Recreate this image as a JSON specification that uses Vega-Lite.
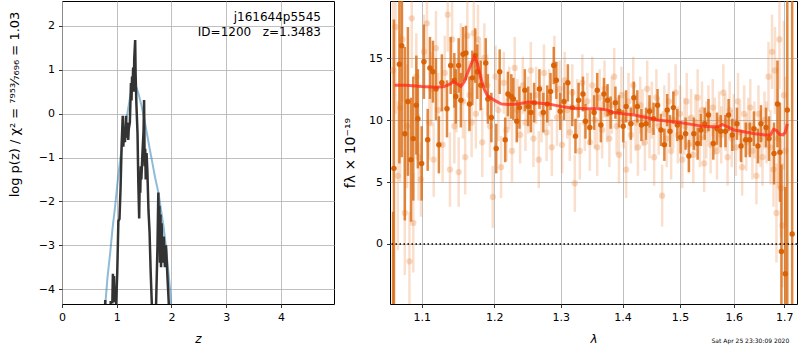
{
  "$schema": "https://vega.github.io/schema/vega-lite/v6.json",
  "padding": {"left": 7, "top": 0, "right": 3, "bottom": 0},
  "background": "white",
  "config": {
    "view": {"stroke": "black", "strokeWidth": 1},
    "font": "DejaVu Sans",
    "axis": {"grid": true, "gridColor": "#b0b0b0", "gridWidth": 0.8, "domain": false, "tickColor": "black", "tickSize": 3.5, "tickWidth": 0.8, "labelFont": "DejaVu Sans", "labelFontSize": 11, "labelColor": "black", "labelPadding": 4, "labelFlush": false, "titleFont": "DejaVu Sans", "titleFontSize": 12, "titleFontWeight": "normal", "titleColor": "black"},
    "title": {"font": "DejaVu Sans", "fontWeight": "normal", "color": "black"}
  },
  "datasets": {
    "prior": [
      {"z":0.788,"lp":-4.4},{"z":0.83,"lp":-3.75},{"z":0.879,"lp":-3.19},{"z":0.925,"lp":-2.6},{"z":0.97,"lp":-2.12},{"z":1.016,"lp":-1.55},{"z":1.062,"lp":-1.06},{"z":1.108,"lp":-0.65},{"z":1.154,"lp":-0.31},{"z":1.2,"lp":0.05},{"z":1.245,"lp":0.38},{"z":1.28,"lp":0.57},{"z":1.306,"lp":0.63},{"z":1.337,"lp":0.64},{"z":1.367,"lp":0.58},{"z":1.41,"lp":0.4},{"z":1.459,"lp":0.15},{"z":1.505,"lp":-0.13},{"z":1.55,"lp":-0.44},{"z":1.6,"lp":-0.78},{"z":1.642,"lp":-1.06},{"z":1.7,"lp":-1.45},{"z":1.764,"lp":-1.81},{"z":1.81,"lp":-2.2},{"z":1.856,"lp":-2.58},{"z":1.9,"lp":-3.05},{"z":1.947,"lp":-3.64},{"z":1.975,"lp":-4.0},{"z":2.0,"lp":-4.45}
    ],
    "pz": [
      {"z":0.78,"lp":-5},{"z":0.79,"lp":-4.25},{"z":0.80,"lp":-5},{"z":0.88,"lp":-5},{"z":0.89,"lp":-4.3},{"z":0.92,"lp":-4.3},{"z":0.93,"lp":-3.65},{"z":0.94,"lp":-4.3},{"z":0.95,"lp":-3.7},{"z":0.96,"lp":-4.3},{"z":0.97,"lp":-4.0},{"z":0.99,"lp":-4.35},{"z":1.01,"lp":-3.6},{"z":1.03,"lp":-2.45},{"z":1.05,"lp":-2.4},{"z":1.07,"lp":-1.7},{"z":1.09,"lp":-0.7},{"z":1.11,"lp":-0.05},{"z":1.12,"lp":-0.75},{"z":1.14,"lp":-0.3},{"z":1.15,"lp":-0.65},{"z":1.17,"lp":-0.05},{"z":1.18,"lp":-0.55},{"z":1.19,"lp":-0.2},{"z":1.21,"lp":-0.6},{"z":1.22,"lp":-0.35},{"z":1.24,"lp":-0.2},{"z":1.26,"lp":0.7},{"z":1.27,"lp":0.3},{"z":1.28,"lp":0.85},{"z":1.29,"lp":0.6},{"z":1.30,"lp":1.05},{"z":1.31,"lp":0.5},{"z":1.32,"lp":1.25},{"z":1.337,"lp":1.68},{"z":1.345,"lp":0.9},{"z":1.36,"lp":0.2},{"z":1.38,"lp":-0.45},{"z":1.395,"lp":-1.6},{"z":1.41,"lp":-2.39},{"z":1.42,"lp":-1.5},{"z":1.43,"lp":-1.8},{"z":1.44,"lp":-1.2},{"z":1.45,"lp":-1.5},{"z":1.47,"lp":-0.9},{"z":1.49,"lp":-0.4},{"z":1.50,"lp":0.31},{"z":1.51,"lp":-1.2},{"z":1.52,"lp":-0.8},{"z":1.53,"lp":-1.5},{"z":1.545,"lp":-0.9},{"z":1.56,"lp":-1.3},{"z":1.58,"lp":-2.2},{"z":1.60,"lp":-2.7},{"z":1.62,"lp":-3.6},{"z":1.64,"lp":-4.3},{"z":1.66,"lp":-5},{"z":1.70,"lp":-5},{"z":1.72,"lp":-4.3},{"z":1.745,"lp":-3.0},{"z":1.76,"lp":-1.8},{"z":1.77,"lp":-2.6},{"z":1.78,"lp":-2.1},{"z":1.79,"lp":-3.4},{"z":1.80,"lp":-2.3},{"z":1.81,"lp":-3.5},{"z":1.82,"lp":-2.5},{"z":1.84,"lp":-3.4},{"z":1.86,"lp":-2.8},{"z":1.88,"lp":-3.5},{"z":1.90,"lp":-3.0},{"z":1.93,"lp":-3.8},{"z":1.95,"lp":-4.3},{"z":1.97,"lp":-5}
    ],
    "light": [
      {"l":1.063,"f":14.0,"e":9},{"l":1.066,"f":17.5,"e":7},{"l":1.069,"f":5.5,"e":6},{"l":1.072,"f":11.0,"e":6},{"l":1.075,"f":16.5,"e":5},{"l":1.078,"f":2.5,"e":5},{"l":1.081,"f":9.5,"e":5},{"l":1.084,"f":-1.4,"e":4},{"l":1.087,"f":18.2,"e":4},{"l":1.089,"f":1.7,"e":4},{"l":1.093,"f":13.5,"e":3.5},{"l":1.096,"f":7.0,"e":3.5},{"l":1.099,"f":5.2,"e":3},{"l":1.103,"f":15.5,"e":3},{"l":1.107,"f":17.8,"e":3},{"l":1.110,"f":9.8,"e":3},{"l":1.113,"f":12.5,"e":3},{"l":1.116,"f":6.8,"e":3},{"l":1.119,"f":15.8,"e":3},{"l":1.122,"f":10.8,"e":3},{"l":1.128,"f":8.0,"e":3},{"l":1.131,"f":13.8,"e":3},{"l":1.135,"f":18.5,"e":3},{"l":1.138,"f":6.0,"e":3},{"l":1.141,"f":16.5,"e":3},{"l":1.144,"f":9.5,"e":3},{"l":1.147,"f":12.0,"e":3},{"l":1.150,"f":5.8,"e":2.8},{"l":1.153,"f":14.8,"e":3},{"l":1.156,"f":11.5,"e":3},{"l":1.159,"f":7.0,"e":3},{"l":1.162,"f":16.8,"e":2.8},{"l":1.165,"f":12.0,"e":2.8},{"l":1.168,"f":9.8,"e":2.8},{"l":1.171,"f":17.0,"e":2.8},{"l":1.174,"f":10.5,"e":2.8},{"l":1.177,"f":16.5,"e":2.8},{"l":1.180,"f":13.5,"e":2.8},{"l":1.183,"f":8.2,"e":2.8},{"l":1.186,"f":15.0,"e":2.8},{"l":1.190,"f":12.8,"e":2.5},{"l":1.194,"f":9.5,"e":2.5},{"l":1.198,"f":3.8,"e":2.5},{"l":1.202,"f":13.5,"e":2.5},{"l":1.206,"f":10.8,"e":2.5},{"l":1.210,"f":6.2,"e":2.5},{"l":1.214,"f":13.0,"e":2.5},{"l":1.218,"f":9.2,"e":2.5},{"l":1.222,"f":11.8,"e":2.5},{"l":1.226,"f":7.5,"e":2.5},{"l":1.230,"f":14.2,"e":2.5},{"l":1.234,"f":10.8,"e":2.5},{"l":1.238,"f":8.8,"e":2.3},{"l":1.242,"f":12.8,"e":2.3},{"l":1.246,"f":9.8,"e":2.3},{"l":1.250,"f":11.2,"e":2.3},{"l":1.254,"f":14.0,"e":2.3},{"l":1.258,"f":8.5,"e":2.3},{"l":1.262,"f":12.0,"e":2.3},{"l":1.266,"f":6.8,"e":2.3},{"l":1.270,"f":10.5,"e":2.3},{"l":1.274,"f":13.8,"e":2.3},{"l":1.278,"f":9.0,"e":2.3},{"l":1.282,"f":11.8,"e":2.3},{"l":1.286,"f":7.8,"e":2.3},{"l":1.290,"f":14.5,"e":2.3},{"l":1.294,"f":10.2,"e":2.3},{"l":1.298,"f":12.5,"e":2.3},{"l":1.302,"f":8.0,"e":2.3},{"l":1.306,"f":13.2,"e":2.3},{"l":1.310,"f":10.8,"e":2.3},{"l":1.314,"f":9.0,"e":2.3},{"l":1.318,"f":12.2,"e":2.3},{"l":1.322,"f":4.9,"e":2.3},{"l":1.326,"f":11.0,"e":2.3},{"l":1.330,"f":7.5,"e":2.3},{"l":1.334,"f":13.0,"e":2.3},{"l":1.338,"f":9.8,"e":2.3},{"l":1.342,"f":11.5,"e":2.3},{"l":1.346,"f":8.2,"e":2.3},{"l":1.350,"f":12.8,"e":2.3},{"l":1.354,"f":10.0,"e":2.3},{"l":1.358,"f":7.8,"e":2.3},{"l":1.362,"f":11.8,"e":2.3},{"l":1.366,"f":9.2,"e":2.3},{"l":1.370,"f":12.5,"e":2.3},{"l":1.374,"f":10.5,"e":2.3},{"l":1.378,"f":8.5,"e":2.3},{"l":1.382,"f":11.2,"e":2.3},{"l":1.386,"f":13.5,"e":2.3},{"l":1.390,"f":9.5,"e":2.3},{"l":1.394,"f":7.2,"e":2.3},{"l":1.398,"f":12.0,"e":2.3},{"l":1.402,"f":10.0,"e":2.3},{"l":1.406,"f":6.0,"e":2.3},{"l":1.410,"f":11.5,"e":2.3},{"l":1.414,"f":8.8,"e":2.3},{"l":1.418,"f":12.8,"e":2.3},{"l":1.422,"f":9.8,"e":2.3},{"l":1.426,"f":7.8,"e":2.3},{"l":1.430,"f":11.2,"e":2.3},{"l":1.434,"f":10.2,"e":2.3},{"l":1.438,"f":8.2,"e":2.3},{"l":1.442,"f":12.5,"e":2.3},{"l":1.446,"f":9.2,"e":2.3},{"l":1.450,"f":10.8,"e":2.3},{"l":1.454,"f":7.0,"e":2.3},{"l":1.458,"f":11.8,"e":2.3},{"l":1.462,"f":9.5,"e":2.3},{"l":1.468,"f":3.9,"e":2.5},{"l":1.472,"f":10.5,"e":2.3},{"l":1.476,"f":8.5,"e":2.3},{"l":1.480,"f":11.5,"e":2.3},{"l":1.484,"f":7.5,"e":2.3},{"l":1.488,"f":10.0,"e":2.3},{"l":1.492,"f":12.2,"e":2.3},{"l":1.496,"f":8.8,"e":2.3},{"l":1.500,"f":10.5,"e":2.3},{"l":1.504,"f":6.8,"e":2.3},{"l":1.508,"f":9.5,"e":2.3},{"l":1.512,"f":11.5,"e":2.3},{"l":1.516,"f":8.0,"e":2.3},{"l":1.520,"f":10.2,"e":2.3},{"l":1.524,"f":7.2,"e":2.3},{"l":1.528,"f":9.8,"e":2.3},{"l":1.532,"f":11.8,"e":2.3},{"l":1.536,"f":8.5,"e":2.3},{"l":1.540,"f":10.8,"e":2.3},{"l":1.544,"f":6.5,"e":2.3},{"l":1.548,"f":9.2,"e":2.3},{"l":1.552,"f":10.5,"e":2.3},{"l":1.556,"f":8.0,"e":2.3},{"l":1.560,"f":11.0,"e":2.3},{"l":1.564,"f":9.5,"e":2.3},{"l":1.568,"f":7.5,"e":2.3},{"l":1.572,"f":10.0,"e":2.3},{"l":1.576,"f":8.8,"e":2.3},{"l":1.580,"f":12.2,"e":2.3},{"l":1.584,"f":9.8,"e":2.3},{"l":1.588,"f":7.0,"e":2.3},{"l":1.592,"f":10.8,"e":2.3},{"l":1.596,"f":8.5,"e":2.3},{"l":1.600,"f":9.8,"e":2.3},{"l":1.604,"f":7.8,"e":2.3},{"l":1.608,"f":11.5,"e":2.3},{"l":1.612,"f":9.0,"e":2.3},{"l":1.616,"f":6.2,"e":2.3},{"l":1.620,"f":10.5,"e":2.3},{"l":1.624,"f":8.2,"e":2.3},{"l":1.628,"f":9.5,"e":2.3},{"l":1.632,"f":11.0,"e":2.3},{"l":1.636,"f":7.5,"e":2.3},{"l":1.640,"f":9.2,"e":2.3},{"l":1.644,"f":5.5,"e":2.3},{"l":1.648,"f":10.5,"e":2.3},{"l":1.652,"f":8.5,"e":2.3},{"l":1.656,"f":7.0,"e":2.3},{"l":1.660,"f":10.0,"e":2.3},{"l":1.664,"f":9.0,"e":2.5},{"l":1.668,"f":13.5,"e":2.8},{"l":1.672,"f":7.8,"e":3},{"l":1.675,"f":15.5,"e":3},{"l":1.678,"f":6.0,"e":3},{"l":1.681,"f":14.0,"e":3.5},{"l":1.684,"f":2.5,"e":4},{"l":1.687,"f":8.5,"e":4},{"l":1.690,"f":16.5,"e":4},{"l":1.693,"f":4.5,"e":4},{"l":1.696,"f":1.5,"e":5},{"l":1.699,"f":12.0,"e":6},{"l":1.702,"f":7.5,"e":6}
    ],
    "dark": [
      {"l":1.063,"f":-6,"e":8.6},{"l":1.064,"f":6.1,"e":12},{"l":1.071,"f":14.5,"e":8},{"l":1.074,"f":16.0,"e":9},{"l":1.078,"f":8.9,"e":7},{"l":1.082,"f":11.5,"e":6},{"l":1.086,"f":6.8,"e":5},{"l":1.089,"f":8.5,"e":5},{"l":1.093,"f":11.2,"e":4},{"l":1.095,"f":10.1,"e":4},{"l":1.100,"f":6.5,"e":3},{"l":1.103,"f":14.7,"e":3},{"l":1.108,"f":8.4,"e":2.5},{"l":1.111,"f":14.2,"e":2.5},{"l":1.115,"f":13.9,"e":2.5},{"l":1.119,"f":12.5,"e":2.5},{"l":1.123,"f":8.0,"e":2.3},{"l":1.127,"f":13.0,"e":2.3},{"l":1.134,"f":10.9,"e":2.3},{"l":1.139,"f":14.4,"e":2.3},{"l":1.144,"f":13.2,"e":2.2},{"l":1.146,"f":11.9,"e":2.2},{"l":1.150,"f":14.4,"e":2.2},{"l":1.153,"f":11.6,"e":2.2},{"l":1.156,"f":15.3,"e":2.2},{"l":1.160,"f":15.4,"e":2.2},{"l":1.165,"f":11.3,"e":2.2},{"l":1.169,"f":13.4,"e":2.2},{"l":1.173,"f":15.2,"e":2.2},{"l":1.176,"f":13.9,"e":2.2},{"l":1.181,"f":12.8,"e":2.0},{"l":1.188,"f":14.6,"e":2.0},{"l":1.191,"f":11.7,"e":2.0},{"l":1.196,"f":10.2,"e":2.0},{"l":1.203,"f":7.7,"e":2.0},{"l":1.208,"f":13.9,"e":1.8},{"l":1.216,"f":8.4,"e":1.8},{"l":1.220,"f":12.1,"e":1.8},{"l":1.225,"f":11.9,"e":1.8},{"l":1.228,"f":11.7,"e":1.7},{"l":1.233,"f":9.9,"e":1.7},{"l":1.237,"f":11.0,"e":1.7},{"l":1.245,"f":12.4,"e":1.7},{"l":1.250,"f":11.1,"e":1.6},{"l":1.254,"f":10.6,"e":1.6},{"l":1.259,"f":11.4,"e":1.6},{"l":1.267,"f":12.5,"e":1.6},{"l":1.273,"f":10.6,"e":1.6},{"l":1.279,"f":11.3,"e":1.5},{"l":1.284,"f":12.3,"e":1.5},{"l":1.289,"f":14.4,"e":1.5},{"l":1.293,"f":13.2,"e":1.5},{"l":1.299,"f":10.7,"e":1.5},{"l":1.305,"f":11.5,"e":1.5},{"l":1.311,"f":13.0,"e":1.5},{"l":1.318,"f":11.0,"e":1.5},{"l":1.323,"f":8.7,"e":1.4},{"l":1.328,"f":11.6,"e":1.4},{"l":1.335,"f":12.1,"e":1.4},{"l":1.339,"f":9.9,"e":1.4},{"l":1.346,"f":9.4,"e":1.4},{"l":1.353,"f":10.6,"e":1.4},{"l":1.358,"f":12.4,"e":1.4},{"l":1.364,"f":9.6,"e":1.4},{"l":1.369,"f":12.1,"e":1.3},{"l":1.375,"f":11.6,"e":1.3},{"l":1.380,"f":10.6,"e":1.3},{"l":1.388,"f":11.4,"e":1.3},{"l":1.394,"f":10.7,"e":1.3},{"l":1.401,"f":9.5,"e":1.3},{"l":1.406,"f":11.1,"e":1.3},{"l":1.414,"f":9.7,"e":1.3},{"l":1.419,"f":11.8,"e":1.3},{"l":1.425,"f":11.1,"e":1.3},{"l":1.432,"f":9.6,"e":1.3},{"l":1.440,"f":9.7,"e":1.3},{"l":1.446,"f":10.7,"e":1.3},{"l":1.453,"f":10.1,"e":1.3},{"l":1.460,"f":11.2,"e":1.3},{"l":1.466,"f":9.2,"e":1.3},{"l":1.472,"f":8.0,"e":1.3},{"l":1.477,"f":10.8,"e":1.3},{"l":1.482,"f":9.1,"e":1.3},{"l":1.488,"f":11.0,"e":1.3},{"l":1.495,"f":9.6,"e":1.3},{"l":1.501,"f":8.6,"e":1.3},{"l":1.510,"f":8.9,"e":1.3},{"l":1.516,"f":7.1,"e":1.3},{"l":1.525,"f":8.9,"e":1.3},{"l":1.532,"f":8.1,"e":1.3},{"l":1.538,"f":9.2,"e":1.3},{"l":1.545,"f":9.7,"e":1.3},{"l":1.552,"f":10.4,"e":1.3},{"l":1.561,"f":8.1,"e":1.3},{"l":1.568,"f":9.3,"e":1.3},{"l":1.575,"f":9.1,"e":1.3},{"l":1.584,"f":9.1,"e":1.3},{"l":1.590,"f":10.4,"e":1.3},{"l":1.597,"f":8.8,"e":1.3},{"l":1.606,"f":9.7,"e":1.3},{"l":1.614,"f":7.9,"e":1.3},{"l":1.623,"f":8.4,"e":1.4},{"l":1.631,"f":8.4,"e":1.4},{"l":1.639,"f":9.3,"e":1.4},{"l":1.647,"f":7.9,"e":1.4},{"l":1.653,"f":9.7,"e":1.5},{"l":1.663,"f":9.4,"e":1.6},{"l":1.669,"f":8.5,"e":1.8},{"l":1.679,"f":7.3,"e":2.5},{"l":1.686,"f":11.3,"e":3.5},{"l":1.691,"f":7.4,"e":4},{"l":1.694,"f":-0.6,"e":7},{"l":1.702,"f":-2.4,"e":7},{"l":1.706,"f":10.8,"e":16},{"l":1.716,"f":0.8,"e":22}
    ],
    "model": [
      {"l":1.065,"f":12.8},{"l":1.08,"f":12.8},{"l":1.10,"f":12.7},{"l":1.12,"f":12.65},{"l":1.13,"f":12.7},{"l":1.138,"f":12.9},{"l":1.143,"f":13.1},{"l":1.148,"f":12.9},{"l":1.153,"f":12.7},{"l":1.158,"f":13.1},{"l":1.163,"f":13.9},{"l":1.168,"f":14.6},{"l":1.172,"f":15.1},{"l":1.176,"f":14.6},{"l":1.18,"f":13.6},{"l":1.185,"f":12.6},{"l":1.19,"f":12.0},{"l":1.195,"f":11.8},{"l":1.20,"f":11.6},{"l":1.21,"f":11.3},{"l":1.22,"f":11.25},{"l":1.235,"f":11.3},{"l":1.25,"f":11.45},{"l":1.26,"f":11.4},{"l":1.28,"f":11.3},{"l":1.30,"f":11.1},{"l":1.32,"f":10.95},{"l":1.34,"f":10.9},{"l":1.36,"f":10.9},{"l":1.375,"f":10.8},{"l":1.385,"f":10.6},{"l":1.40,"f":10.5},{"l":1.42,"f":10.4},{"l":1.44,"f":10.2},{"l":1.46,"f":10.0},{"l":1.48,"f":9.9},{"l":1.50,"f":9.8},{"l":1.52,"f":9.65},{"l":1.54,"f":9.5},{"l":1.56,"f":9.45},{"l":1.57,"f":9.45},{"l":1.578,"f":9.65},{"l":1.585,"f":9.5},{"l":1.60,"f":9.2},{"l":1.62,"f":9.05},{"l":1.64,"f":8.9},{"l":1.66,"f":8.8},{"l":1.672,"f":8.8},{"l":1.678,"f":9.25},{"l":1.684,"f":9.15},{"l":1.69,"f":8.85},{"l":1.697,"f":8.8},{"l":1.702,"f":9.0},{"l":1.706,"f":9.7}
    ]
  },
  "bounds": "flush",
  "spacing": 56,
  "title": {"text": "Sat Apr 25 23:30:09 2020", "orient": "bottom", "anchor": "end", "fontSize": 6, "offset": -7, "dx": -9},
  "hconcat": [
    {
      "width": 272,
      "height": 303,
      "title": {"text": ["j161644p5545", "ID=1200\u00a0\u00a0\u00a0z=1.3483"], "orient": "top", "anchor": "end", "frame": "group", "offset": -38, "dx": -13, "fontSize": 12, "lineHeight": 15},
      "layer": [
        {
          "data": {"name": "prior"},
          "mark": {"type": "line", "color": "#1f77b4", "opacity": 0.5, "strokeWidth": 2, "clip": true},
          "encoding": {
            "x": {"field": "z", "type": "quantitative", "title": "z", "scale": {"domain": [0, 4.97], "nice": false, "zero": false}, "axis": {"values": [0, 1, 2, 3, 4], "titleFontStyle": "italic", "titlePadding": 11}},
            "y": {"field": "lp", "type": "quantitative", "title": "log p(z) / χ² = ⁷⁹⁵³⁄₇₆₉₆ = 1.03", "scale": {"domain": [-4.34, 2.57], "nice": false, "zero": false}, "axis": {"values": [-4, -3, -2, -1, 0, 1, 2], "titleFontSize": 13, "titlePadding": 17, "titleY": 103}}
          }
        },
        {
          "data": {"name": "pz"},
          "mark": {"type": "line", "color": "#333333", "strokeWidth": 2.5, "clip": true},
          "encoding": {
            "x": {"field": "z", "type": "quantitative", "title": "z"},
            "y": {"field": "lp", "type": "quantitative", "title": "log p(z) / χ² = ⁷⁹⁵³⁄₇₆₉₆ = 1.03"}
          }
        }
      ]
    },
    {
      "width": 407,
      "height": 303,
      "layer": [
        {
          "data": {"name": "light"},
          "mark": {"type": "errorbar", "ticks": false, "color": "#e8843a", "opacity": 0.26, "thickness": 2.5, "clip": true},
          "encoding": {
            "x": {"field": "l", "type": "quantitative", "title": "λ", "scale": {"type": "log", "domain": [1.059, 1.726], "nice": false}, "axis": {"values": [1.1, 1.2, 1.3, 1.4, 1.5, 1.6, 1.7], "format": ".1f", "titleFontStyle": "italic", "titlePadding": 11}},
            "y": {"field": "f", "type": "quantitative", "title": "fλ × 10⁻¹⁹", "scale": {"domain": [-4.84, 19.6], "nice": false, "zero": false}, "axis": {"values": [0, 5, 10, 15], "titlePadding": 11, "titleFontSize": 14}},
            "yError": {"field": "e"}
          }
        },
        {
          "data": {"name": "light"},
          "mark": {"type": "point", "filled": true, "color": "#e8843a", "opacity": 0.3, "size": 40, "clip": true},
          "encoding": {
            "x": {"field": "l", "type": "quantitative", "title": "λ"},
            "y": {"field": "f", "type": "quantitative", "title": "fλ × 10⁻¹⁹"}
          }
        },
        {
          "data": {"name": "dark"},
          "mark": {"type": "errorbar", "ticks": false, "color": "#d96a12", "opacity": 0.8, "thickness": 2.5, "clip": true},
          "encoding": {
            "x": {"field": "l", "type": "quantitative", "title": "λ"},
            "y": {"field": "f", "type": "quantitative", "title": "fλ × 10⁻¹⁹"},
            "yError": {"field": "e"}
          }
        },
        {
          "data": {"name": "dark"},
          "mark": {"type": "point", "filled": true, "color": "#d95f02", "opacity": 0.95, "size": 30, "clip": true},
          "encoding": {
            "x": {"field": "l", "type": "quantitative", "title": "λ"},
            "y": {"field": "f", "type": "quantitative", "title": "fλ × 10⁻¹⁹"}
          }
        },
        {
          "data": {"name": "model"},
          "mark": {"type": "line", "color": "#ff2a1a", "opacity": 0.75, "strokeWidth": 3, "clip": true},
          "encoding": {
            "x": {"field": "l", "type": "quantitative", "title": "λ"},
            "y": {"field": "f", "type": "quantitative", "title": "fλ × 10⁻¹⁹"}
          }
        },
        {
          "data": {"values": [{}]},
          "mark": {"type": "rule", "color": "black", "strokeDash": [1.5, 2.5], "strokeWidth": 1.5},
          "encoding": {"y": {"datum": 0, "title": "fλ × 10⁻¹⁹"}}
        }
      ]
    }
  ]
}
